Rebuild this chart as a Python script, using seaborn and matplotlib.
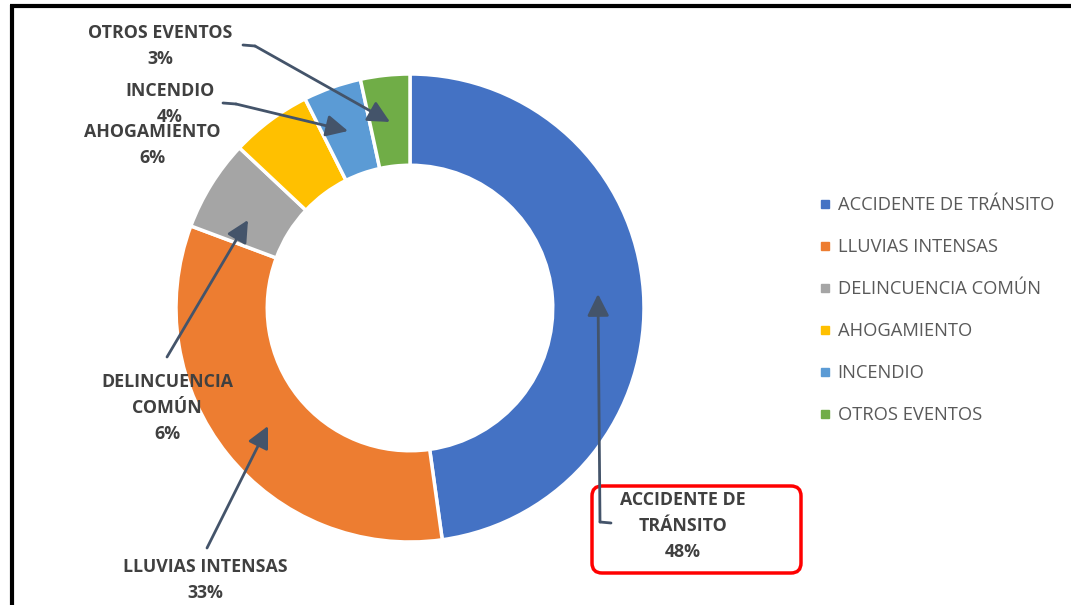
import matplotlib
matplotlib.use("Agg")
import matplotlib.pyplot as plt
import seaborn as sns
from matplotlib.patches import FancyBboxPatch
from matplotlib.lines import Line2D

# data
categorias = ["ACCIDENTE DE TRÁNSITO", "LLUVIAS INTENSAS", "DELINCUENCIA COMÚN",
              "AHOGAMIENTO", "INCENDIO", "OTROS EVENTOS"]
porcentajes = [47.8, 32.9, 6.3, 5.6, 4.0, 3.4]
etiquetas = ["ACCIDENTE DE\nTRÁNSITO\n48%", "LLUVIAS INTENSAS\n33%", "DELINCUENCIA\nCOMÚN\n6%",
             "AHOGAMIENTO\n6%", "INCENDIO\n4%", "OTROS EVENTOS\n3%"]
colores = ["#4472C4", "#ED7D31", "#A5A5A5", "#FFC000", "#5B9BD5", "#70AD47"]

sns.set_theme(style="white")
plt.rcParams["font.family"] = ["Open Sans", "DejaVu Sans"]

W, H = 1071, 605
fig = plt.figure(figsize=(W / 100, H / 100), dpi=100)

# donut in an equal-aspect axes placed over the pixel frame
cx, cy, r = 410, 308, 234
pax = fig.add_axes([(cx - r) / W, 1 - (cy + r) / H, 2 * r / W, 2 * r / H])
wedges, _ = pax.pie(porcentajes, colors=sns.color_palette(colores), startangle=90,
                    counterclock=False, radius=1,
                    wedgeprops=dict(width=0.39, edgecolor="white", linewidth=2.5))
pax.set_xlim(-1, 1)
pax.set_ylim(-1, 1)
pax.set_aspect("equal")

# overlay axes in pixel coordinates for labels and leader lines
ax = fig.add_axes([0, 0, 1, 1])
ax.set_xlim(0, W)
ax.set_ylim(H, 0)
ax.patch.set_alpha(0)
ax.axis("off")

# frame lines (top and left)
ax.plot([10, W], [6, 6], color="black", lw=3, solid_capstyle="butt")
ax.plot([12, 12], [5, H], color="black", lw=3, solid_capstyle="butt")

txt_kw = dict(ha="center", va="center", fontsize=12.8, fontweight="bold",
              color="#404040", linespacing=1.55)
line_c = "#44546A"
arrow_kw = dict(arrowstyle="-|>,head_length=1.1,head_width=0.55", color=line_c, lw=2,
                shrinkA=0, shrinkB=0)

# label positions (pixel centers of text blocks)
pos = {
    0: (683, 526),
    1: (205, 580),
    2: (167, 408),
    3: (152, 145),
    4: (170, 104),
    5: (160, 46),
}
for i, (x, y) in pos.items():
    ax.text(x, y, etiquetas[i], zorder=5, **txt_kw)

# leader lines: polyline points then arrow tip
leaders = [
    ([(611, 523), (600, 522)], (598, 294)),
    ([(207, 548)], (268, 426)),
    ([(167, 357)], (248, 220)),
    ([(223, 103), (236, 104)], (348, 131)),
    ([(243, 45), (255, 46)], (390, 122)),
]
for pts, tip in leaders:
    if len(pts) > 1:
        xs, ys = zip(*pts)
        ax.plot(xs, ys, color=line_c, lw=2)
    ax.annotate("", xy=tip, xytext=pts[-1], arrowprops=arrow_kw, zorder=6)

# red rounded box around the main label
box = FancyBboxPatch((592, 486), 209, 87, boxstyle="round,pad=0,rounding_size=10",
                     fill=False, edgecolor="#FF0000", lw=2.5, zorder=4)
ax.add_patch(box)

# legend
handles = [Line2D([], [], marker="s", linestyle="", markersize=6, color=c) for c in colores]
fig.legend(handles, categorias, loc="upper left", bbox_to_anchor=(808 / W, 1 - 187 / H),
           frameon=False, fontsize=13.2, labelcolor="#595959", handletextpad=0.3,
           labelspacing=1.31, borderpad=0, handlelength=0.82)

fig.savefig("out.png", dpi=100)
